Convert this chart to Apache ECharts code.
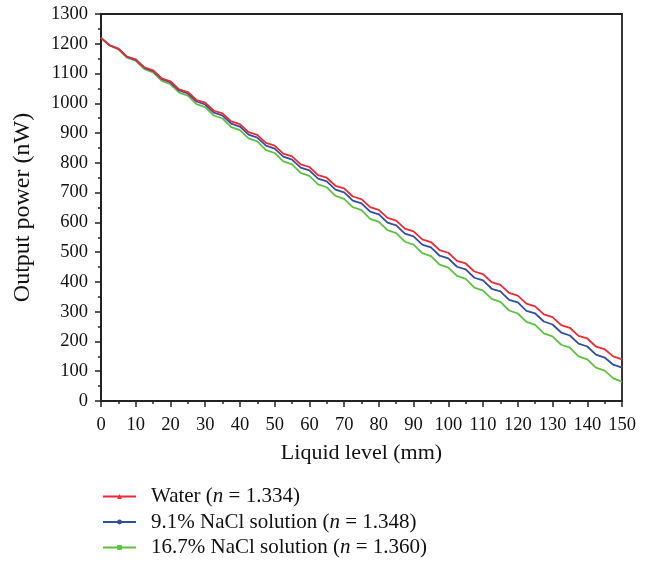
<!DOCTYPE html>
<html>
<head>
<meta charset="utf-8">
<script src="https://cdn.jsdelivr.net/npm/echarts@6/dist/echarts.min.js"></script>
<style>
  html, body { margin: 0; padding: 0; background: #fff; }
  #main { width: 652px; height: 563px; }
</style>
</head>
<body>
<div id="main"></div>
<script>
// liquid level (mm)
var level = [
  0, 2.5, 5, 7.5, 10, 12.5, 15, 17.5, 20, 22.5, 25, 27.5, 30, 32.5, 35, 37.5, 40, 42.5, 45, 47.5,
  50, 52.5, 55, 57.5, 60, 62.5, 65, 67.5, 70, 72.5, 75, 77.5, 80, 82.5, 85, 87.5, 90, 92.5, 95, 97.5,
  100, 102.5, 105, 107.5, 110, 112.5, 115, 117.5, 120, 122.5, 125, 127.5, 130, 132.5, 135, 137.5, 140, 142.5, 145, 147.5, 150
];
// output power (nW)
var water = [
  1220, 1195, 1184, 1157, 1148, 1121, 1111, 1084, 1074, 1047, 1038, 1011, 1002, 975, 966, 939, 930, 903, 894, 867,
  858, 831, 822, 795, 786, 759, 750, 723, 714, 687, 678, 651, 642, 615, 606, 579, 570, 543, 534, 507,
  498, 471, 462, 435, 426, 399, 390, 363, 354, 327, 318, 291, 282, 255, 246, 219, 210, 183, 174, 150, 140
];
var nacl91 = [
  1220, 1195, 1183, 1156, 1146, 1119, 1108, 1081, 1070, 1043, 1033, 1006, 996, 969, 959, 932, 922, 895, 885, 858,
  848, 821, 811, 784, 775, 747, 738, 710, 701, 673, 664, 636, 627, 599, 590, 562, 553, 525, 516, 488,
  479, 451, 442, 414, 405, 377, 368, 340, 331, 303, 294, 267, 257, 230, 220, 193, 183, 156, 146, 122, 112
];
var nacl167 = [
  1220, 1194, 1182, 1153, 1143, 1115, 1104, 1075, 1064, 1036, 1026, 997, 987, 959, 949, 920, 910, 882, 872, 843,
  833, 805, 795, 766, 756, 728, 718, 689, 679, 651, 641, 612, 602, 574, 564, 535, 525, 497, 487, 458,
  448, 420, 410, 381, 371, 343, 333, 304, 294, 266, 256, 227, 217, 189, 179, 150, 140, 112, 102, 76, 65
];
var seriesNames = ["Water", "9.1% NaCl", "16.7% NaCl"];
var legendText = {
  "Water": ["Water (", " = 1.334)"],
  "9.1% NaCl": ["9.1% NaCl solution (", " = 1.348)"],
  "16.7% NaCl": ["16.7% NaCl solution (", " = 1.360)"]
};
var colors = ["#ee2a35", "#3150a0", "#5fc040"];
var symbols = ["triangle", "circle", "rect"];

function pairs(ys) {
  var arr = [];
  for (var i = 0; i < level.length; i++) {
    arr.push([level[i], ys[i]]);
  }
  return arr;
}

var font = "Liberation Serif";
var chart = echarts.init(document.getElementById("main"));
var allData = [water, nacl91, nacl167];
var series = [];
for (var i = 0; i < 3; i++) {
  series.push({
    name: seriesNames[i],
    type: "line",
    data: pairs(allData[i]),
    symbol: symbols[i],
    symbolSize: 5,
    showSymbol: false,
    lineStyle: { color: colors[i], width: 1.8 },
    itemStyle: { color: colors[i] },
    z: 3 - i
  });
}

var option = {
  animation: false,
  grid: {
    left: 101, right: 30, top: 14, bottom: 162,
    show: true, borderColor: "#222", borderWidth: 1.8
  },
  legend: {
    orient: "vertical",
    left: 102,
    top: 486,
    padding: 0,
    itemWidth: 33,
    itemHeight: 6,
    itemGap: 4.5,
    data: seriesNames,
    formatter: function (name) {
      var t = legendText[name];
      return "{p| }{a|" + t[0] + "}{i|n}{a|" + t[1] + "}";
    },
    textStyle: {
      fontFamily: font,
      fontSize: 21,
      color: "#111",
      rich: {
        p: { width: 10, fontSize: 21 },
        a: { fontFamily: font, fontSize: 21, color: "#111" },
        i: { fontFamily: font, fontSize: 21, fontStyle: "italic", color: "#111" }
      }
    }
  },
  xAxis: {
    type: "value",
    min: 0, max: 150, interval: 10,
    name: "Liquid level (mm)",
    nameLocation: "middle",
    nameGap: 41,
    nameTextStyle: { fontFamily: font, fontSize: 22, color: "#111" },
    axisLine: { show: true, lineStyle: { color: "#222", width: 2 } },
    axisTick: { show: true, inside: false, length: 6, lineStyle: { color: "#222", width: 1.5 } },
    minorTick: { show: true, splitNumber: 2, length: 3, lineStyle: { color: "#222", width: 1.5 } },
    axisLabel: {
      fontFamily: font, fontSize: 18.5, color: "#111", margin: 15,
      formatter: function (v) { return String(v); }
    },
    splitLine: { show: false }
  },
  yAxis: {
    type: "value",
    min: 0, max: 1300, interval: 100,
    name: "Output power (nW)",
    nameLocation: "middle",
    nameGap: 66,
    nameTextStyle: { fontFamily: font, fontSize: 24, color: "#111" },
    axisLine: { show: true, lineStyle: { color: "#222", width: 2 } },
    axisTick: { show: true, inside: false, length: 6, lineStyle: { color: "#222", width: 1.5 } },
    minorTick: { show: true, splitNumber: 2, length: 3, lineStyle: { color: "#222", width: 1.5 } },
    axisLabel: {
      fontFamily: font, fontSize: 18.5, color: "#111", margin: 13,
      formatter: function (v) { return String(v); }
    },
    splitLine: { show: false }
  },
  series: series
};

chart.setOption(option);
</script>
</body>
</html>
